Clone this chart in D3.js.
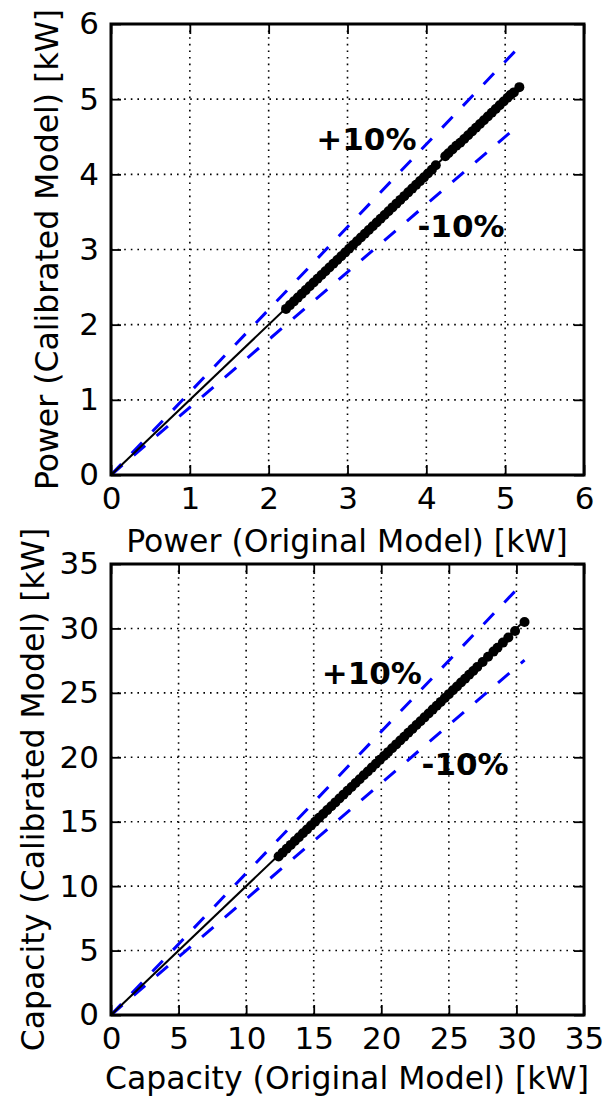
<!DOCTYPE html>
<html>
<head>
  <script src="https://d3js.org/d3.v7.min.js"></script>
  <style>
    body { margin: 0; background: #fff; }
    text { font-family: "DejaVu Sans", sans-serif; fill: #000; }
  </style>
</head>
<body>
  <svg id="chart"></svg>
  <script>
    // top panel: power
    var powTicks = [0, 1, 2, 3, 4, 5, 6];
    var powX = [2.22, 2.27, 2.32, 2.37, 2.42, 2.47, 2.52, 2.57, 2.62, 2.67, 2.72, 2.77, 2.82, 2.87, 2.92,
                2.97, 3.02, 3.07, 3.12, 3.17, 3.22, 3.27, 3.32, 3.37, 3.42, 3.47, 3.52, 3.57, 3.62, 3.67,
                3.72, 3.77, 3.82, 3.87, 3.92, 3.97, 4.02, 4.07, 4.12, 4.24, 4.28, 4.33, 4.38, 4.43, 4.48,
                4.53, 4.58, 4.63, 4.68, 4.73, 4.78, 4.83, 4.88, 4.93, 4.98, 5.03, 5.07, 5.11, 5.18];
    var powY = [2.21, 2.26, 2.31, 2.36, 2.41, 2.46, 2.51, 2.56, 2.61, 2.66, 2.71, 2.76, 2.81, 2.86, 2.91,
                2.96, 3.01, 3.06, 3.11, 3.16, 3.21, 3.26, 3.31, 3.36, 3.41, 3.46, 3.51, 3.56, 3.61, 3.66,
                3.71, 3.76, 3.81, 3.86, 3.91, 3.96, 4.01, 4.06, 4.12, 4.24, 4.28, 4.33, 4.38, 4.42, 4.47,
                4.52, 4.57, 4.62, 4.67, 4.72, 4.77, 4.82, 4.87, 4.92, 4.97, 5.02, 5.06, 5.09, 5.16];

    // bottom panel: capacity
    var capTicks = [0, 5, 10, 15, 20, 25, 30, 35];
    var capX = [12.4, 12.7, 13.0, 13.3, 13.6, 13.9, 14.2, 14.5, 14.8, 15.1, 15.4, 15.7, 16.0, 16.3, 16.6,
                16.9, 17.2, 17.5, 17.8, 18.1, 18.4, 18.7, 19.0, 19.3, 19.6, 19.9, 20.2, 20.5, 20.8, 21.1,
                21.4, 21.7, 22.0, 22.3, 22.6, 22.9, 23.2, 23.5, 23.8, 24.1, 24.4, 24.7, 25.0, 25.3, 25.6,
                25.9, 26.2, 26.5, 26.8, 27.1, 27.5, 27.9, 28.3, 28.6, 29.0, 29.4, 29.9, 30.6];
    var capY = [12.3, 12.6, 12.9, 13.2, 13.5, 13.8, 14.1, 14.4, 14.7, 15.0, 15.3, 15.6, 15.9, 16.2, 16.5,
                16.8, 17.1, 17.4, 17.7, 18.0, 18.3, 18.6, 18.9, 19.2, 19.5, 19.8, 20.1, 20.4, 20.7, 21.0,
                21.3, 21.6, 21.9, 22.2, 22.5, 22.8, 23.1, 23.4, 23.7, 24.0, 24.3, 24.6, 24.9, 25.2, 25.5,
                25.8, 26.1, 26.4, 26.7, 27.0, 27.4, 27.8, 28.2, 28.5, 28.9, 29.3, 29.8, 30.5];

    var width = 609, height = 1097;
    var svg = d3.select("#chart").attr("width", width).attr("height", height);

    function panel(opt) {
      var x = d3.scaleLinear().domain([0, opt.max]).range([111, 584]);
      var y = d3.scaleLinear().domain([0, opt.max]).range([opt.bottom, opt.top]);
      var g = svg.append("g");

      // dotted grid
      g.selectAll(".gx").data(opt.ticks.slice(1, -1)).enter().append("line")
        .attr("x1", d => x(d)).attr("x2", d => x(d))
        .attr("y1", opt.top).attr("y2", opt.bottom)
        .attr("stroke", "#000").attr("stroke-width", 1.6).attr("stroke-dasharray", "1.6,5");
      g.selectAll(".gy").data(opt.ticks.slice(1, -1)).enter().append("line")
        .attr("y1", d => y(d)).attr("y2", d => y(d))
        .attr("x1", 111).attr("x2", 584)
        .attr("stroke", "#000").attr("stroke-width", 1.6).attr("stroke-dasharray", "1.6,5");

      var xmax = d3.max(opt.xs);
      var line = d3.line().x(d => x(d[0])).y(d => y(d[1]));

      // +/-10% bands and 1:1 line
      [1.1, 0.9].forEach(function(k) {
        g.append("path").datum([[0, 0], [xmax, k * xmax]])
          .attr("d", line).attr("fill", "none")
          .attr("stroke", "#0000ff").attr("stroke-width", 3)
          .attr("stroke-dasharray", "15,15");
      });
      g.append("path").datum([[0, 0], [xmax, xmax]])
        .attr("d", line).attr("fill", "none")
        .attr("stroke", "#000").attr("stroke-width", 2);

      g.selectAll("circle").data(d3.zip(opt.xs, opt.ys)).enter().append("circle")
        .attr("cx", d => x(d[0])).attr("cy", d => y(d[1]))
        .attr("r", 5).attr("fill", "#000");

      // axes with inward ticks on all sides
      var fmt = d3.format("d");
      g.append("g").attr("transform", "translate(0," + opt.bottom + ")")
        .call(d3.axisBottom(x).tickValues(opt.ticks).tickFormat(fmt).tickSizeInner(-10).tickSizeOuter(0).tickPadding(12));
      g.append("g").attr("transform", "translate(0," + opt.top + ")")
        .call(d3.axisTop(x).tickValues(opt.ticks).tickFormat("").tickSizeInner(-10).tickSizeOuter(0));
      g.append("g").attr("transform", "translate(111,0)")
        .call(d3.axisLeft(y).tickValues(opt.ticks).tickFormat(fmt).tickSizeInner(-10).tickSizeOuter(0).tickPadding(12));
      g.append("g").attr("transform", "translate(584,0)")
        .call(d3.axisRight(y).tickValues(opt.ticks).tickFormat("").tickSizeInner(-10).tickSizeOuter(0));
      g.selectAll(".domain").remove();
      g.selectAll(".tick line").attr("stroke", "#000").attr("stroke-width", 1.8);
      g.selectAll(".tick text").style("font-family", "DejaVu Sans").style("font-size", "31px").attr("fill", "#000");

      g.append("rect").attr("x", 111).attr("y", opt.top)
        .attr("width", 473).attr("height", opt.bottom - opt.top)
        .attr("fill", "none").attr("stroke", "#000").attr("stroke-width", 3);

      // labels
      g.append("text").attr("x", 347).attr("y", opt.xlabelY)
        .attr("text-anchor", "middle").style("font-size", "31.5px").text(opt.xlabel);
      g.append("text")
        .attr("transform", "translate(" + opt.ylabelX + "," + (opt.top + opt.bottom) / 2 + ") rotate(-90)")
        .attr("text-anchor", "middle").style("font-size", "31.5px").text(opt.ylabel);

      g.append("text").attr("x", x(opt.plus[0])).attr("y", y(opt.plus[1]))
        .attr("text-anchor", "middle").style("font-size", "31px").style("font-weight", "bold").text("+10%");
      g.append("text").attr("x", x(opt.minus[0])).attr("y", y(opt.minus[1]))
        .attr("text-anchor", "middle").style("font-size", "31px").style("font-weight", "bold").text("-10%");
    }

    panel({
      max: 6, ticks: powTicks, xs: powX, ys: powY, top: 24, bottom: 475,
      xlabel: "Power (Original Model) [kW]", ylabel: "Power (Calibrated Model) [kW]",
      xlabelY: 552, ylabelX: 58,
      plus: [3.24, 4.33], minus: [4.44, 3.16]
    });
    panel({
      max: 35, ticks: capTicks, xs: capX, ys: capY, top: 564, bottom: 1015,
      xlabel: "Capacity (Original Model) [kW]", ylabel: "Capacity (Calibrated Model) [kW]",
      xlabelY: 1089, ylabelX: 44,
      plus: [19.3, 25.7], minus: [26.2, 18.6]
    });
  </script>
</body>
</html>
